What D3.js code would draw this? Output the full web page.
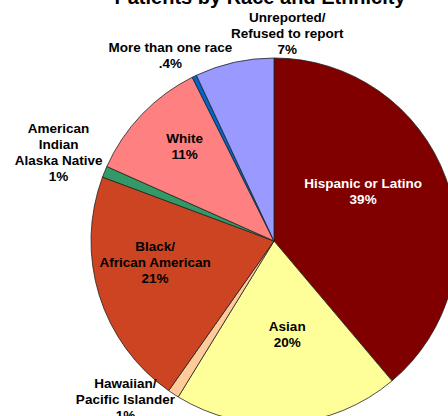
<!DOCTYPE html>
<html>
<head>
<meta charset="utf-8">
<script src="https://cdn.jsdelivr.net/npm/d3@7"></script>
<style>
  body { margin: 0; background: #fff; }
  text { font-family: "Liberation Sans", Arial, sans-serif; font-weight: bold; }
</style>
</head>
<body>
<div id="chart"></div>
<script>
// --- Data ---
const categories = [
  "Hispanic or Latino", "Asian", "Hawaiian/ Pacific Islander", "Black/ African American",
  "American Indian Alaska Native", "White", "More than one race", "Unreported/ Refused to report"
];
const shares = [39, 20, 1, 21, 1, 11, 0.4, 7];
const shareLabels = ["39%", "20%", "1%", "21%", "1%", "11%", ".4%", "7%"];
const labelLines = [
  ["Hispanic or Latino"],
  ["Asian"],
  ["Hawaiian/", "Pacific Islander"],
  ["Black/", "African American"],
  ["American", "Indian", "Alaska Native"],
  ["White"],
  ["More than one race"],
  ["Unreported/", "Refused to report"]
];
const colors = ["#800000", "#FFFF99", "#FFCC99", "#CC4422", "#339966", "#FF8080", "#0066CC", "#9999FF"];

// label placement: radius factor + pixel nudge (layout only)
const labelLayout = [
  { r: 0.6, dx: -14, dy: -12, fill: "#fff" },
  { r: 0.6, dx: 5, dy: -16 },
  { r: 1.0, dx: -48, dy: 5 },
  { r: 0.6, dx: -14, dy: -11 },
  { r: 1.0, dx: -46, dy: -20 },
  { r: 0.6, dx: -10, dy: -19 },
  { r: 1.0, dx: -24, dy: -21 },
  { r: 1.0, dx: 53, dy: -29 }
];

const W = 448, H = 416;
const cx = 274, cy = 241, R = 183;
const lh = 16;

const svg = d3.select("#chart").append("svg")
  .attr("width", W).attr("height", H);

svg.append("text")
  .attr("x", 260).attr("y", 4)
  .attr("text-anchor", "middle")
  .attr("font-size", 20)
  .attr("fill", "#000")
  .text("Patients by Race and Ethnicity");

const data = categories.map((c, i) => ({ name: c, value: shares[i], i }));
const pie = d3.pie().sort(null).value(d => d.value);
const arcs = pie(data);
const arc = d3.arc().innerRadius(0).outerRadius(R);

const g = svg.append("g").attr("transform", `translate(${cx},${cy})`);

g.selectAll("path.slice")
  .data(arcs)
  .enter()
  .append("path")
  .attr("class", "slice")
  .attr("d", arc)
  .attr("fill", d => colors[d.data.i])
  .attr("stroke", "#222")
  .attr("stroke-width", 0.8);

// --- Labels ---
const labels = g.selectAll("text.lbl")
  .data(arcs)
  .enter()
  .append("text")
  .attr("class", "lbl")
  .attr("text-anchor", "middle")
  .attr("font-size", 13.5)
  .attr("fill", d => labelLayout[d.data.i].fill || "#000")
  .attr("transform", d => {
    const L = labelLayout[d.data.i];
    const la = d3.arc().innerRadius(R * L.r).outerRadius(R * L.r);
    const [x, y] = la.centroid(d);
    return `translate(${x + L.dx},${y + L.dy})`;
  });

labels.each(function(d) {
  const lines = labelLines[d.data.i].concat([shareLabels[d.data.i]]);
  const t = d3.select(this);
  const y0 = -(lines.length - 1) * lh / 2 + 5;
  lines.forEach((ln, k) => {
    t.append("tspan").attr("x", 0).attr("y", y0 + k * lh).text(ln);
  });
});
</script>
</body>
</html>
